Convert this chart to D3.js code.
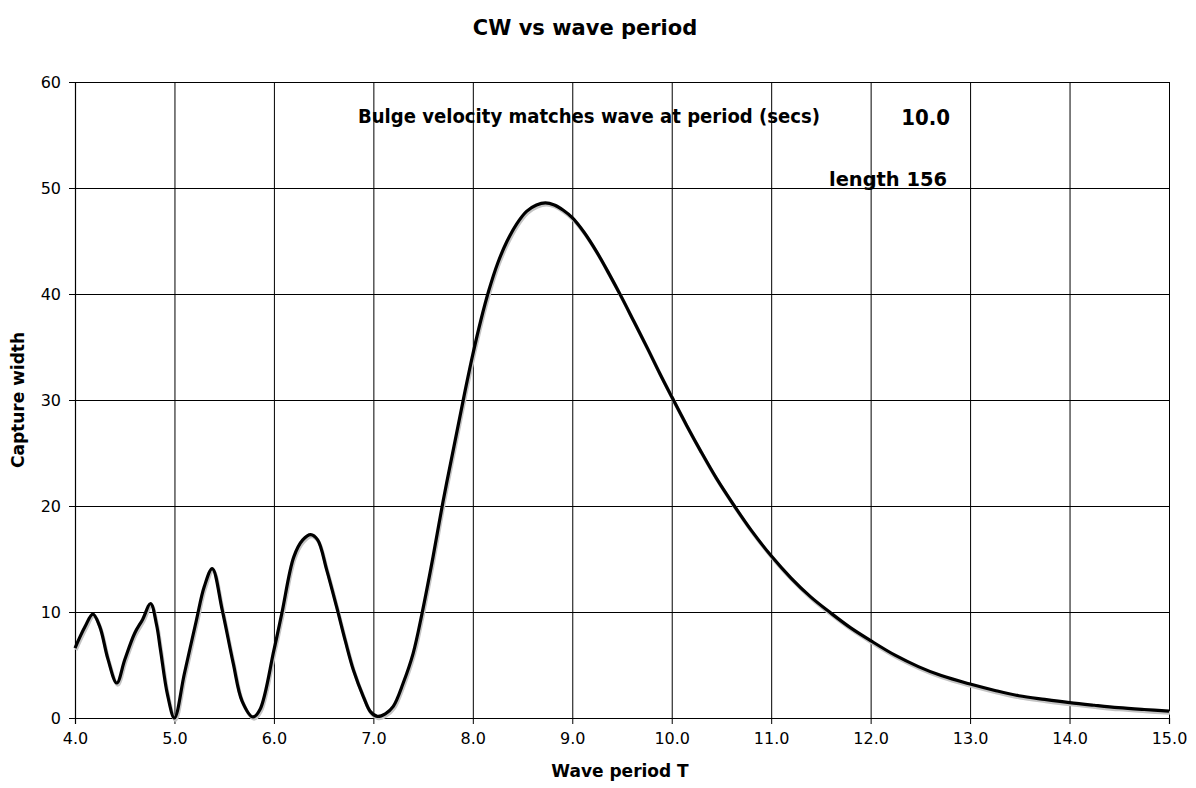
<!DOCTYPE html>
<html>
<head>
<meta charset="utf-8">
<script src="https://cdn.jsdelivr.net/npm/d3@7"></script>
<style>
  body { margin: 0; background: #fff; }
  text { font-family: "DejaVu Sans", Verdana, sans-serif; }
</style>
</head>
<body>
<svg></svg>
<script>
// wave period T (secs) and capture width
periods = [4.00, 4.10, 4.18, 4.25, 4.33, 4.42, 4.50, 4.60, 4.68, 4.76, 4.82, 4.86, 4.93, 5.00,
  5.10, 5.22, 5.30, 5.38, 5.48, 5.59, 5.68, 5.79, 5.86, 6.00, 6.08, 6.20, 6.29, 6.37, 6.44,
  6.53, 6.63, 6.72, 6.80, 6.90, 6.97, 7.04, 7.12, 7.20, 7.30, 7.40, 7.49, 7.60, 7.70, 7.81,
  7.91, 8.00, 8.08, 8.16, 8.25, 8.34, 8.44, 8.54, 8.64, 8.73, 8.82, 8.91, 9.00, 9.12, 9.25,
  9.37, 9.49, 9.62, 9.76, 9.88, 10.00, 10.15, 10.29, 10.45, 10.63, 10.80, 11.00, 11.20,
  11.40, 11.60, 11.80, 12.00, 12.25, 12.48, 12.71, 13.00, 13.25, 13.49, 13.75, 14.00, 14.25,
  14.49, 14.75, 15.00];
captureWidth = [6.6, 8.6, 9.8, 8.6, 5.6, 3.3, 5.5, 8.0, 9.3, 10.8, 8.8, 6.4, 2.2, 0.0,
  4.2, 9.2, 12.4, 14.1, 10.2, 5.2, 1.6, 0.1, 0.8, 6.4, 9.9, 15.2, 16.8, 17.3, 16.8,
  14.0, 10.5, 7.2, 4.5, 2.0, 0.6, 0.15, 0.4, 1.1, 3.3, 6.1, 9.9, 15.2, 20.4, 25.6,
  30.3, 34.3, 37.5, 40.3, 42.9, 44.9, 46.6, 47.8, 48.4, 48.6, 48.4, 47.9, 47.2, 45.8, 43.9,
  41.9, 39.8, 37.4, 34.8, 32.5, 30.3, 27.6, 25.2, 22.6, 20.0, 17.7, 15.3, 13.2,
  11.4, 9.9, 8.5, 7.3, 5.9, 4.85, 4.0, 3.2, 2.6, 2.1, 1.75, 1.45, 1.2,
  0.98, 0.8, 0.65];
xTicks = [4, 5, 6, 7, 8, 9, 10, 11, 12, 13, 14, 15];
yTicks = [0, 10, 20, 30, 40, 50, 60];
matchPeriod = 10.0;
shipLength = 156;

width = 1196;
height = 788;
plotLeft = 75; plotRight = 1169; plotTop = 82; plotBottom = 718;

svg = d3.select('svg')
  .attr('width', width)
  .attr('height', height);

x = d3.scaleLinear().domain([4, 15]).range([plotLeft, plotRight]);
y = d3.scaleLinear().domain([0, 60]).range([plotBottom, plotTop]);

// grid
svg.append('g')
  .attr('transform', `translate(0,${plotBottom})`)
  .call(d3.axisBottom(x).tickValues(xTicks).tickSize(-(plotBottom - plotTop)).tickFormat(''))
  .call(g => g.select('.domain').remove())
  .selectAll('line').attr('stroke', '#000').attr('stroke-width', 1);
svg.append('g')
  .attr('transform', `translate(${plotLeft},0)`)
  .call(d3.axisLeft(y).tickValues(yTicks).tickSize(-(plotRight - plotLeft)).tickFormat(''))
  .call(g => g.select('.domain').remove())
  .selectAll('line').attr('stroke', '#000').attr('stroke-width', 1);

// axes
xAxis = svg.append('g')
  .attr('transform', `translate(0,${plotBottom})`)
  .call(d3.axisBottom(x).tickValues(xTicks).tickSize(6).tickPadding(9).tickFormat(d3.format('.1f')));
yAxis = svg.append('g')
  .attr('transform', `translate(${plotLeft},0)`)
  .call(d3.axisLeft(y).tickValues(yTicks).tickSize(6).tickPadding(8).tickFormat(d3.format('d')));
[xAxis, yAxis].forEach(a => {
  a.select('.domain').attr('stroke', '#000').attr('stroke-width', 1.2);
  a.selectAll('line').attr('stroke', '#000');
  a.selectAll('text').attr('font-size', 16).attr('fill', '#000')
    .style('font-family', '"DejaVu Sans", Verdana, sans-serif');
});

data = periods.map((t, i) => ({ t: t, cw: captureWidth[i] }));
line = d3.line().x(d => x(d.t)).y(d => y(d.cw)).curve(d3.curveCatmullRom.alpha(0.5));

svg.append('path')
  .attr('d', line(data))
  .attr('fill', 'none')
  .attr('stroke', '#c4c4c4')
  .attr('stroke-width', 3.5)
  .attr('transform', 'translate(1,2)');
svg.append('path')
  .attr('d', line(data))
  .attr('fill', 'none')
  .attr('stroke', '#000')
  .attr('stroke-width', 3.2)
  .attr('stroke-linejoin', 'round');

// titles
svg.append('text')
  .attr('x', 585).attr('y', 35)
  .attr('text-anchor', 'middle')
  .attr('font-size', 21).attr('font-weight', 'bold')
  .text('CW vs wave period');
svg.append('text')
  .attr('x', 620).attr('y', 777)
  .attr('text-anchor', 'middle')
  .attr('font-size', 17).attr('font-weight', 'bold')
  .text('Wave period T');
svg.append('text')
  .attr('transform', 'translate(24,400) rotate(-90)')
  .attr('text-anchor', 'middle')
  .attr('font-size', 17).attr('font-weight', 'bold')
  .text('Capture width');

// annotations
svg.append('text')
  .attr('x', 358).attr('y', 123)
  .attr('font-size', 19).attr('font-weight', 'bold')
  .attr('textLength', 462).attr('lengthAdjust', 'spacingAndGlyphs')
  .style('font-family', '"DejaVu Sans Condensed", "DejaVu Sans", sans-serif')
  .text('Bulge velocity matches wave at period (secs)');
svg.append('text')
  .attr('x', 950).attr('y', 125)
  .attr('text-anchor', 'end')
  .attr('font-size', 22).attr('font-weight', 'bold')
  .style('font-family', '"DejaVu Sans Condensed", "DejaVu Sans", sans-serif')
  .text(matchPeriod.toFixed(1));
svg.append('text')
  .attr('x', 829).attr('y', 186)
  .attr('font-size', 19).attr('font-weight', 'bold')
  .attr('textLength', 118).attr('lengthAdjust', 'spacingAndGlyphs')
  .style('font-family', '"DejaVu Sans Condensed", "DejaVu Sans", sans-serif')
  .text('length ' + shipLength);
</script>
</body>
</html>
